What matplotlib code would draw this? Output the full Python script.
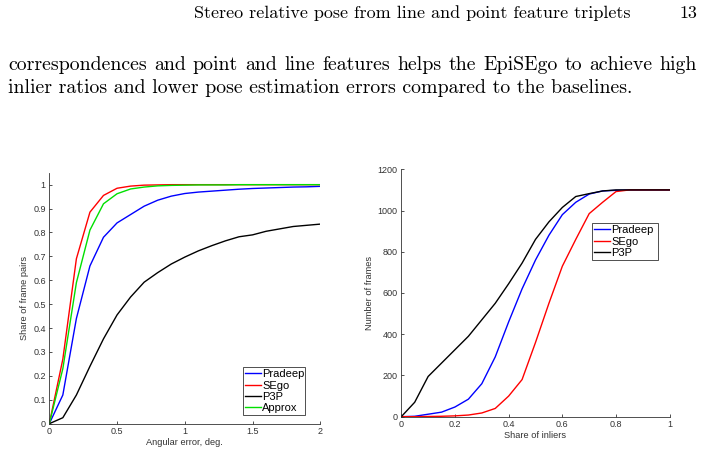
import matplotlib
matplotlib.use("Agg")
import matplotlib.pyplot as plt
import numpy as np

# ---- data: left plot (cumulative share of frame pairs vs angular error) ----
err_x = [0.0, 0.1, 0.2, 0.3, 0.4, 0.5, 0.6, 0.7, 0.8, 0.9, 1.0,
         1.1, 1.2, 1.3, 1.4, 1.5, 1.6, 1.7, 1.8, 1.9, 2.0]
pradeep_err = [0.0, 0.12, 0.44, 0.66, 0.78, 0.84, 0.875, 0.91, 0.935, 0.952, 0.963,
               0.969, 0.973, 0.977, 0.981, 0.984, 0.986, 0.988, 0.990, 0.991, 0.993]
sego_err = [0.0, 0.27, 0.69, 0.885, 0.955, 0.985, 0.994, 0.998, 0.999, 1.0, 1.0,
            1.0, 1.0, 1.0, 1.0, 1.0, 1.0, 1.0, 1.0, 1.0, 1.0]
p3p_err = [0.0, 0.025, 0.12, 0.24, 0.355, 0.455, 0.53, 0.592, 0.632, 0.668, 0.697,
           0.723, 0.745, 0.765, 0.782, 0.790, 0.805, 0.815, 0.825, 0.830, 0.835]
approx_err = [0.0, 0.23, 0.59, 0.81, 0.92, 0.962, 0.982, 0.990, 0.995, 0.997, 0.998,
              0.999, 0.999, 0.999, 1.0, 1.0, 1.0, 1.0, 1.0, 1.0, 1.0]

# ---- data: right plot (number of frames vs share of inliers) ----
inl_x = [0.0, 0.05, 0.1, 0.15, 0.2, 0.25, 0.3, 0.35, 0.4, 0.45, 0.5,
         0.55, 0.6, 0.65, 0.7, 0.75, 0.8, 0.85, 0.9, 0.95, 1.0]
pradeep_inl = [0, 2, 12, 22, 47, 85, 160, 290, 460, 620, 760,
               880, 980, 1040, 1080, 1095, 1098, 1100, 1100, 1100, 1100]
sego_inl = [0, 0, 1, 2, 4, 8, 18, 40, 100, 180, 360,
            550, 730, 860, 985, 1040, 1092, 1100, 1100, 1100, 1100]
p3p_inl = [0, 70, 195, 260, 325, 390, 470, 550, 645, 745, 860,
           945, 1015, 1068, 1082, 1095, 1100, 1100, 1100, 1100, 1100]

left_xticks = [0, 0.5, 1, 1.5, 2]
left_xticklabels = ["0", "0.5", "1", "1.5", "2"]
left_yticks = [0, 0.1, 0.2, 0.3, 0.4, 0.5, 0.6, 0.7, 0.8, 0.9, 1.0]
left_yticklabels = ["0", "0.1", "0.2", "0.3", "0.4", "0.5", "0.6", "0.7", "0.8", "0.9", "1"]
right_xticks = [0, 0.2, 0.4, 0.6, 0.8, 1.0]
right_xticklabels = ["0", "0.2", "0.4", "0.6", "0.8", "1"]
right_yticks = [0, 200, 400, 600, 800, 1000, 1200]

header = "Stereo relative pose from line and point feature triplets"
page_no = "13"
body1 = "correspondences and point and line features helps the EpiSEgo to achieve high"
body2 = "inlier ratios and lower pose estimation errors compared to the baselines."

# ---- styling ----
plt.rcParams['font.family'] = ['Liberation Sans', 'DejaVu Sans']
AX_COL = '#333333'
C_BLUE, C_RED, C_BLACK, C_GREEN = '#0000ff', '#ff0000', '#000000', '#00e000'

fig = plt.figure(figsize=(7.04, 4.55), dpi=100)
fig.patch.set_facecolor('white')
renderer = fig.canvas.get_renderer()

serif = dict(family=['cmr10', 'DejaVu Serif'])
HEAD_FS = 13.0
BODY_FS = 14.3
fig.text(631 / 704, 1 - 18 / 455, header, ha='right', va='baseline', fontsize=HEAD_FS, **serif)
fig.text(697 / 704, 1 - 18 / 455, page_no, ha='right', va='baseline', fontsize=HEAD_FS, **serif)


def justified_line(text, x0, x1, ypx, fs):
    words = text.split()
    arts = []
    widths = []
    for w in words:
        t = fig.text(0, 1 - ypx / 455, w, ha='left', va='baseline', fontsize=fs, **serif)
        widths.append(t.get_window_extent(renderer).width)
        arts.append(t)
    gap = ((x1 - x0) - sum(widths)) / (len(words) - 1)
    x = x0
    for t, w in zip(arts, widths):
        t.set_x(x / 704)
        x += w + gap


justified_line(body1, 8, 697, 70, BODY_FS)
fig.text(8 / 704, 1 - 93.5 / 455, body2, ha='left', va='baseline', fontsize=BODY_FS, **serif)


def style_axes(ax):
    for s in ['top', 'right']:
        ax.spines[s].set_visible(False)
    for s in ['left', 'bottom']:
        ax.spines[s].set_color(AX_COL)
        ax.spines[s].set_linewidth(0.6)
    ax.tick_params(direction='in', length=2.5, width=0.6, colors=AX_COL,
                   labelsize=6.5, pad=2.5)


LEG_KW = dict(loc='upper left', mode='expand', fontsize=8, fancybox=False, framealpha=1,
              edgecolor=AX_COL, handlelength=1.45, handletextpad=0.1,
              labelspacing=0.12, borderpad=0.2, borderaxespad=0)

# left axes
ax1 = fig.add_axes([0.070, 0.0688, 0.385, 0.5516])
ax1.plot(err_x, pradeep_err, color=C_BLUE, lw=1.0, label='Pradeep')
ax1.plot(err_x, sego_err, color=C_RED, lw=1.0, label='SEgo')
ax1.plot(err_x, p3p_err, color=C_BLACK, lw=1.0, label='P3P')
ax1.plot(err_x, approx_err, color=C_GREEN, lw=1.0, label='Approx')
ax1.set_xlim(0, 2)
ax1.set_ylim(0, 1.05)
ax1.set_xticks(left_xticks)
ax1.set_xticklabels(left_xticklabels)
ax1.set_yticks(left_yticks)
ax1.set_yticklabels(left_yticklabels)
ax1.set_xlabel('Angular error, deg.', fontsize=6.7, color=AX_COL, labelpad=1.5)
ax1.set_ylabel('Share of frame pairs', fontsize=6.7, color=AX_COL, labelpad=3)
style_axes(ax1)
leg1 = ax1.legend(bbox_to_anchor=(0.7147, 0.2259 - 0.2, 0.2288, 0.2), **LEG_KW)
leg1.get_frame().set_linewidth(0.6)

# right axes
ax2 = fig.add_axes([0.570, 0.0842, 0.3813, 0.5437])
ax2.plot(inl_x, pradeep_inl, color=C_BLUE, lw=1.0, label='Pradeep')
ax2.plot(inl_x, sego_inl, color=C_RED, lw=1.0, label='SEgo')
ax2.plot(inl_x, p3p_inl, color=C_BLACK, lw=1.0, label='P3P')
ax2.set_xlim(0, 1)
ax2.set_ylim(0, 1200)
ax2.set_xticks(right_xticks)
ax2.set_xticklabels(right_xticklabels)
ax2.set_yticks(right_yticks)
ax2.set_xlabel('Share of inliers', fontsize=6.7, color=AX_COL, labelpad=1.5)
ax2.set_ylabel('Number of frames', fontsize=6.7, color=AX_COL, labelpad=3)
style_axes(ax2)
leg2 = ax2.legend(bbox_to_anchor=(0.7105, 0.7829 - 0.15, 0.244, 0.15), **LEG_KW)
leg2.get_frame().set_linewidth(0.6)

fig.savefig('out.png', dpi=100, facecolor='white')
